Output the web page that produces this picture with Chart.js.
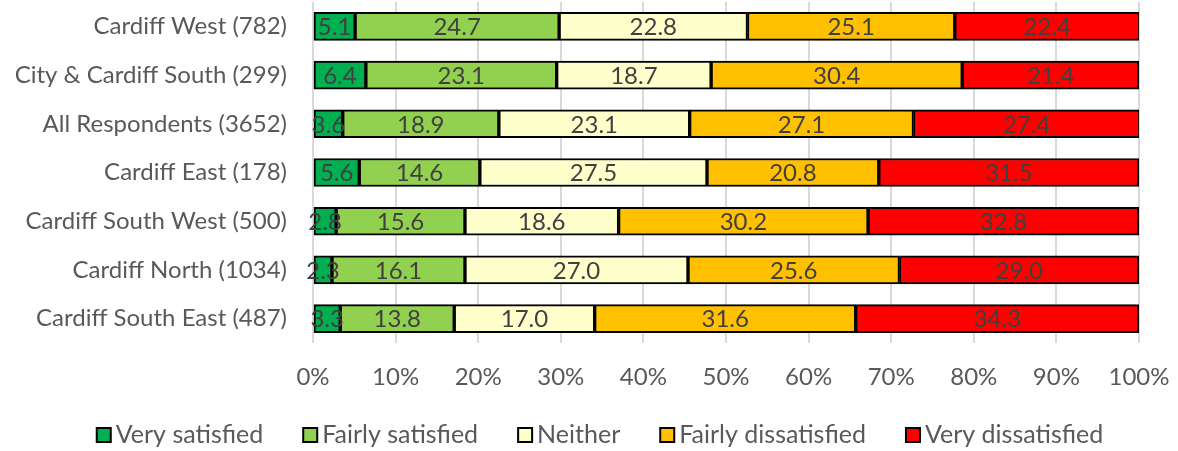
<!DOCTYPE html>
<html>
<head>
<meta charset="utf-8">
<script src="https://cdn.jsdelivr.net/npm/chart.js@4/dist/chart.umd.min.js"></script>
<style>
  html, body { margin: 0; padding: 0; background: #fff; }
  #wrap { width: 1178px; height: 451px; position: relative; }
</style>
</head>
<body>
<div id="wrap"><canvas id="chart"></canvas></div>
<script>
// categories, top to bottom
var areas = ["Cardiff West (782)", "City & Cardiff South (299)", "All Respondents (3652)",
  "Cardiff East (178)", "Cardiff South West (500)", "Cardiff North (1034)", "Cardiff South East (487)"];

var seriesNames = ["Very satisfied", "Fairly satisfied", "Neither", "Fairly dissatisfied", "Very dissatisfied"];

// percentages per series
var verySatisfied      = [5.1, 6.4, 3.6, 5.6, 2.8, 2.3, 3.3];
var fairlySatisfied    = [24.7, 23.1, 18.9, 14.6, 15.6, 16.1, 13.8];
var neither            = [22.8, 18.7, 23.1, 27.5, 18.6, 27.0, 17.0];
var fairlyDissatisfied = [25.1, 30.4, 27.1, 20.8, 30.2, 25.6, 31.6];
var veryDissatisfied   = [22.4, 21.4, 27.4, 31.5, 32.8, 29.0, 34.3];

var tickLabels = ["0%", "10%", "20%", "30%", "40%", "50%", "60%", "70%", "80%", "90%", "100%"];

var colours = ["#00B050", "#92D050", "#FFFFCC", "#FFC000", "#FF0000"];
var allSeries = [verySatisfied, fairlySatisfied, neither, fairlyDissatisfied, veryDissatisfied];

var FONT = "Lato, 'Liberation Sans', sans-serif";

// draws the numbers in the middle of each segment
var valueLabels = {
  id: "valueLabels",
  afterDatasetsDraw: function(chart) {
    var ctx = chart.ctx;
    ctx.save();
    ctx.font = "24px " + FONT;
    ctx.fillStyle = "#404040";
    ctx.textAlign = "center";
    ctx.textBaseline = "middle";
    chart.data.datasets.forEach(function(ds, i) {
      var meta = chart.getDatasetMeta(i);
      meta.data.forEach(function(bar, j) {
        var cx = (bar.x + bar.base) / 2;
        ctx.fillText(ds.data[j].toFixed(1), cx, bar.y + 1);
      });
    });
    ctx.restore();
  }
};

// legend along the bottom, small boxes close to the text
var bottomLegend = {
  id: "bottomLegend",
  afterDraw: function(chart) {
    var ctx = chart.ctx;
    var gapBox = 5, gapItem = 40, box = 14, cy = 435;
    ctx.save();
    ctx.font = "25px " + FONT;
    var widths = seriesNames.map(function(n) { return ctx.measureText(n).width; });
    var total = 0;
    widths.forEach(function(w, i) { total += box + gapBox + w + (i < widths.length - 1 ? gapItem : 0); });
    var x = 600 - total / 2;
    ctx.textBaseline = "middle";
    ctx.textAlign = "left";
    seriesNames.forEach(function(n, i) {
      ctx.fillStyle = colours[i];
      ctx.fillRect(x, cy - box / 2, box, box);
      ctx.strokeStyle = "#000";
      ctx.lineWidth = 2;
      ctx.strokeRect(x, cy - box / 2, box, box);
      ctx.fillStyle = "#595959";
      ctx.fillText(n, x + box + gapBox, cy);
      x += box + gapBox + widths[i] + gapItem;
    });
    ctx.restore();
  }
};

var datasets = seriesNames.map(function(name, i) {
  return {
    label: name,
    data: allSeries[i],
    backgroundColor: colours[i],
    borderColor: "#000",
    borderWidth: 2,
    borderSkipped: false,
    barThickness: 28
  };
});

new Chart(document.getElementById("chart"), {
  type: "bar",
  data: { labels: areas, datasets: datasets },
  plugins: [valueLabels, bottomLegend],
  options: {
    indexAxis: "y",
    responsive: true,
    maintainAspectRatio: false,
    animation: false,
    layout: { autoPadding: false, padding: { left: 0, right: 39, top: 2, bottom: 48 } },
    scales: {
      x: {
        stacked: true,
        min: 0,
        max: 100,
        grid: { color: "#D9D9D9", lineWidth: 2, drawTicks: false },
        border: { display: false },
        afterFit: function(s) { s.height = 60; s.paddingLeft = 0; s.paddingRight = 0; },
        ticks: {
          stepSize: 10,
          padding: 20,
          maxRotation: 0,
          color: "#595959",
          font: { family: FONT, size: 24 },
          callback: function(v, idx) { return tickLabels[idx]; }
        }
      },
      y: {
        stacked: true,
        grid: { display: false, drawTicks: false },
        border: { display: false },
        afterFit: function(s) { s.width = 313; s.paddingTop = 0; s.paddingBottom = 0; },
        ticks: {
          padding: 26,
          color: "#595959",
          font: { family: FONT, size: 24 }
        }
      }
    },
    plugins: {
      tooltip: { enabled: false },
      legend: { display: false }
    }
  }
});
</script>
</body>
</html>
